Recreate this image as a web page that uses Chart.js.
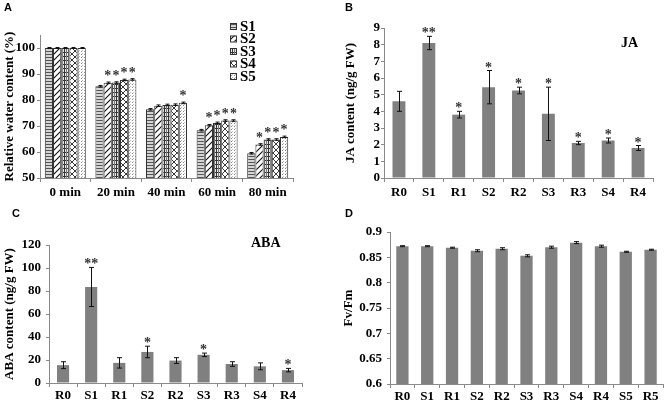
<!DOCTYPE html>
<html><head><meta charset="utf-8">
<script src="https://cdn.jsdelivr.net/npm/chart.js@4/dist/chart.umd.min.js"></script>
<style>
body{margin:0;background:#fff;width:666px;height:402px;position:relative;overflow:hidden}
canvas{position:absolute}
.lt{position:absolute;font:bold 11px "Liberation Sans",Arial,sans-serif;color:#000;line-height:11px}
</style></head><body>
<canvas id="cA" width="333" height="201" style="left:0;top:0"></canvas>
<canvas id="cB" width="333" height="201" style="left:333px;top:0"></canvas>
<canvas id="cC" width="333" height="201" style="left:0;top:201px"></canvas>
<canvas id="cD" width="333" height="201" style="left:333px;top:201px"></canvas>
<div class="lt" style="left:4px;top:2px">A</div>
<div class="lt" style="left:345px;top:2px">B</div>
<div class="lt" style="left:12px;top:208px">C</div>
<div class="lt" style="left:345px;top:208px">D</div>
<script>
// ---------- DATA ----------
const timeLabels = ['0 min', '20 min', '40 min', '60 min', '80 min'];
const seriesNames = ['S1', 'S2', 'S3', 'S4', 'S5'];
const rwcS1 = [100, 85.3, 76.4, 68.4, 59.5];
const rwcS2 = [100, 86.6, 77.8, 70.3, 62.9];
const rwcS3 = [100, 86.7, 78.1, 71.2, 64.8];
const rwcS4 = [100, 87.7, 78.2, 72.1, 64.8];
const rwcS5 = [100, 87.9, 78.9, 72.1, 65.8];
const rwcErr = [0.2, 0.3, 0.3, 0.3, 0.3];
const rwcStarsS1 = ['', '', '', '', ''];
const rwcStarsS2 = ['', '*', '', '*', '*'];
const rwcStarsS3 = ['', '*', '', '*', '*'];
const rwcStarsS4 = ['', '*', '', '*', '*'];
const rwcStarsS5 = ['', '*', '*', '*', '*'];
const rwcTicks = [50, 60, 70, 80, 90, 100];

const hormoneLabels = ['R0', 'S1', 'R1', 'S2', 'R2', 'S3', 'R3', 'S4', 'R4'];
const jaValues = [4.6, 8.1, 3.8, 5.45, 5.25, 3.85, 2.1, 2.25, 1.8];
const jaErr = [0.6, 0.4, 0.2, 1.0, 0.2, 1.6, 0.1, 0.15, 0.15];
const jaStars = ['', '**', '*', '*', '*', '*', '*', '*', '*'];
const jaTicks = [0, 1, 2, 3, 4, 5, 6, 7, 8, 9];

const abaValues = [15.5, 83.5, 17.5, 27, 19.5, 24.5, 16.5, 14.5, 11.2];
const abaErr = [3, 17, 4.5, 5, 2.5, 1.5, 2, 3, 1.5];
const abaStars = ['', '**', '', '*', '', '*', '', '', '*'];
const abaTicks = [0, 20, 40, 60, 80, 100, 120];

const fvLabels = ['R0', 'S1', 'R1', 'S2', 'R2', 'S3', 'R3', 'S4', 'R4', 'S5', 'R5'];
const fvValues = [0.872, 0.872, 0.869, 0.863, 0.867, 0.853, 0.870, 0.879, 0.872, 0.861, 0.865];
const fvErr = [0.001, 0.001, 0.001, 0.002, 0.002, 0.002, 0.002, 0.002, 0.002, 0.001, 0.001];
const fvTicks = [0.6, 0.65, 0.7, 0.75, 0.8, 0.85, 0.9];

// ---------- STYLE ----------
const SERIF = '"Liberation Serif","Times New Roman",serif';
const AXIS = '#8a8a8a';
const BAR = '#808080';

function pat(type) {
  const c = document.createElement('canvas');
  const g = c.getContext('2d');
  if (type === 'h') {
    c.width = 4; c.height = 3;
    g.fillStyle = '#d4d4d4'; g.fillRect(0, 0, 4, 3);
    g.fillStyle = '#555'; g.fillRect(0, 0, 4, 1);
  } else if (type === 'd') {
    c.width = 6; c.height = 6;
    g.fillStyle = '#fff'; g.fillRect(0, 0, 6, 6);
    g.strokeStyle = '#111'; g.lineWidth = 1.1;
    g.beginPath(); g.moveTo(-1, 7); g.lineTo(7, -1); g.moveTo(-1, 1); g.lineTo(1, -1); g.moveTo(5, 7); g.lineTo(7, 5); g.stroke();
  } else if (type === 'g') {
    c.width = 4; c.height = 4;
    g.fillStyle = '#e6e6e6'; g.fillRect(0, 0, 4, 4);
    g.fillStyle = '#333'; g.fillRect(0, 0, 4, 1); g.fillRect(0, 0, 1, 4);
    g.fillStyle = '#777'; g.fillRect(2, 0, 1, 4);
  } else if (type === 'x') {
    c.width = 6; c.height = 6;
    g.fillStyle = '#fff'; g.fillRect(0, 0, 6, 6);
    g.strokeStyle = '#222'; g.lineWidth = 0.9;
    g.beginPath(); g.moveTo(0, 6); g.lineTo(6, 0); g.moveTo(0, 0); g.lineTo(6, 6); g.stroke();
  } else {
    c.width = 3; c.height = 3;
    g.fillStyle = '#fff'; g.fillRect(0, 0, 3, 3);
    g.fillStyle = '#888'; g.fillRect(0, 0, 1, 1);
    g.fillStyle = '#bbb'; g.fillRect(1, 2, 1, 1);
  }
  return g.createPattern(c, 'repeat');
}
const patterns = ['h', 'd', 'g', 'x', 'o'].map(pat);

const annot = {
  id: 'annot',
  afterDatasetsDraw(chart, args, o) {
    const ctx = chart.ctx, y = chart.scales.y;
    (o.errors || []).forEach((errs, di) => {
      const meta = chart.getDatasetMeta(di);
      const vals = chart.data.datasets[di].data;
      meta.data.forEach((bar, i) => {
        const v = vals[i], e = errs[i];
        const top = y.getPixelForValue(v + e), bot = y.getPixelForValue(v - e);
        const x = Math.round(bar.x) + 0.5, cap = o.cap || 2.5;
        ctx.save();
        ctx.strokeStyle = '#111'; ctx.lineWidth = 1;
        ctx.beginPath();
        ctx.moveTo(x, top); ctx.lineTo(x, bot);
        ctx.moveTo(x - cap, top); ctx.lineTo(x + cap, top);
        ctx.moveTo(x - cap, bot); ctx.lineTo(x + cap, bot);
        ctx.stroke();
        const s = o.stars && o.stars[di] && o.stars[di][i];
        if (s) {
          ctx.fillStyle = '#333';
          ctx.font = 'bold ' + (o.starSize || 14) + 'px ' + SERIF;
          ctx.textAlign = 'center'; ctx.textBaseline = 'alphabetic';
          ctx.fillText(s, bar.x, top + (o.starOffset || 0));
        }
        ctx.restore();
      });
    });
    if (o.label) {
      ctx.save();
      ctx.fillStyle = '#000';
      ctx.font = 'bold 14px ' + SERIF;
      ctx.textAlign = 'left'; ctx.textBaseline = 'middle';
      ctx.fillText(o.label.text, o.label.x, o.label.y);
      ctx.restore();
    }
    if (o.legend) {
      const L = o.legend;
      ctx.save();
      L.names.forEach((n, i) => {
        const yy = L.y + i * L.dy;
        ctx.fillStyle = patterns[i];
        ctx.fillRect(L.x, yy - 3, 6, 6);
        ctx.strokeStyle = '#333'; ctx.lineWidth = 1;
        ctx.strokeRect(L.x + 0.5, yy - 2.5, 6, 6);
        ctx.fillStyle = '#000';
        ctx.font = 'bold 15px ' + SERIF;
        ctx.textAlign = 'left'; ctx.textBaseline = 'middle';
        ctx.fillText(n, L.x + 10, yy + 1);
      });
      ctx.restore();
    }
  }
};

function axes(o) {
  return {
    x: {
      grid: { display: true, drawOnChartArea: false, color: AXIS, tickLength: 4, offset: true },
      border: { display: true, color: AXIS },
      ticks: { color: '#000', padding: o.xPad, autoSkip: false, maxRotation: 0, font: { family: SERIF, weight: 'bold', size: 13 } },
      afterFit: s => { s.height = o.xH; }
    },
    y: {
      min: o.min, max: o.max,
      grid: { display: true, drawOnChartArea: false, color: AXIS, tickLength: 3 },
      border: { display: true, color: AXIS },
      ticks: { color: '#000', padding: o.yPad, autoSkip: false, font: { family: SERIF, weight: 'bold', size: 13 },
        callback: v => String(+Number(v).toFixed(2)) },
      afterBuildTicks: s => { s.ticks = o.ticks.map(v => ({ value: v })); },
      title: { display: true, text: o.title, color: '#000', padding: { top: o.tPad, bottom: 0 },
        font: { family: SERIF, weight: 'bold', size: 13 } },
      afterFit: s => { s.width = o.yW; }
    }
  };
}

// ---------- PANEL A ----------
const rwcSeries = [rwcS1, rwcS2, rwcS3, rwcS4, rwcS5];
const rwcStars = [rwcStarsS1, rwcStarsS2, rwcStarsS3, rwcStarsS4, rwcStarsS5];
new Chart(document.getElementById('cA'), {
  type: 'bar',
  data: {
    labels: timeLabels,
    datasets: rwcSeries.map((d, i) => ({
      label: seriesNames[i], data: d, backgroundColor: patterns[i],
      borderColor: '#333', borderWidth: 1, barPercentage: 1, categoryPercentage: 0.81
    }))
  },
  options: {
    responsive: false, animation: false,
    layout: { padding: { left: 0, right: 40, top: 35, bottom: 0 } },
    scales: axes({ min: 50, max: 105, ticks: rwcTicks, title: 'Relative water content (%)', yW: 40, xH: 23, xPad: 3, yPad: 2, tPad: 2 }),
    plugins: {
      legend: { display: false }, tooltip: { enabled: false },
      annot: { errors: rwcSeries.map(() => rwcErr), stars: rwcStars, cap: 2, starOffset: -2, starSize: 14,
        legend: { x: 230, y: 26, dy: 12.5, names: seriesNames } }
    }
  },
  plugins: [annot]
});

// ---------- PANEL B ----------
new Chart(document.getElementById('cB'), {
  type: 'bar',
  data: { labels: hormoneLabels, datasets: [{ data: jaValues, backgroundColor: BAR, barPercentage: 0.9, categoryPercentage: 0.48 }] },
  options: {
    responsive: false, animation: false,
    layout: { padding: { left: 0, right: 13, top: 28, bottom: 0 } },
    scales: axes({ min: 0, max: 9, ticks: jaTicks, title: 'JA content (ng/g FW)', yW: 51, xH: 23, xPad: 3, yPad: 1, tPad: 10 }),
    plugins: {
      legend: { display: false }, tooltip: { enabled: false },
      annot: { errors: [jaErr], stars: [jaStars], cap: 2.5, starOffset: 1, starSize: 14,
        label: { text: 'JA', x: 288, y: 43 } }
    }
  },
  plugins: [annot]
});

// ---------- PANEL C ----------
new Chart(document.getElementById('cC'), {
  type: 'bar',
  data: { labels: hormoneLabels, datasets: [{ data: abaValues, backgroundColor: BAR, barPercentage: 0.9, categoryPercentage: 0.48 }] },
  options: {
    responsive: false, animation: false,
    layout: { padding: { left: 0, right: 31, top: 44, bottom: 0 } },
    scales: axes({ min: 0, max: 120, ticks: abaTicks, title: 'ABA content (ng/g FW)', yW: 49, xH: 19, xPad: 1, yPad: 5, tPad: 2 }),
    plugins: {
      legend: { display: false }, tooltip: { enabled: false },
      annot: { errors: [abaErr], stars: [abaStars], cap: 2.5, starOffset: 1, starSize: 14,
        label: { text: 'ABA', x: 251, y: 42 } }
    }
  },
  plugins: [annot]
});

// ---------- PANEL D ----------
new Chart(document.getElementById('cD'), {
  type: 'bar',
  data: { labels: fvLabels, datasets: [{ data: fvValues, backgroundColor: BAR, barPercentage: 0.9, categoryPercentage: 0.55 }] },
  options: {
    responsive: false, animation: false,
    layout: { padding: { left: 0, right: 3, top: 31, bottom: 0 } },
    scales: axes({ min: 0.6, max: 0.9, ticks: fvTicks, title: 'Fv/Fm', yW: 57, xH: 18, xPad: 1, yPad: 5, tPad: 8 }),
    plugins: {
      legend: { display: false }, tooltip: { enabled: false },
      annot: { errors: [fvErr], stars: [], cap: 2.5 }
    }
  },
  plugins: [annot]
});
</script>
</body></html>
